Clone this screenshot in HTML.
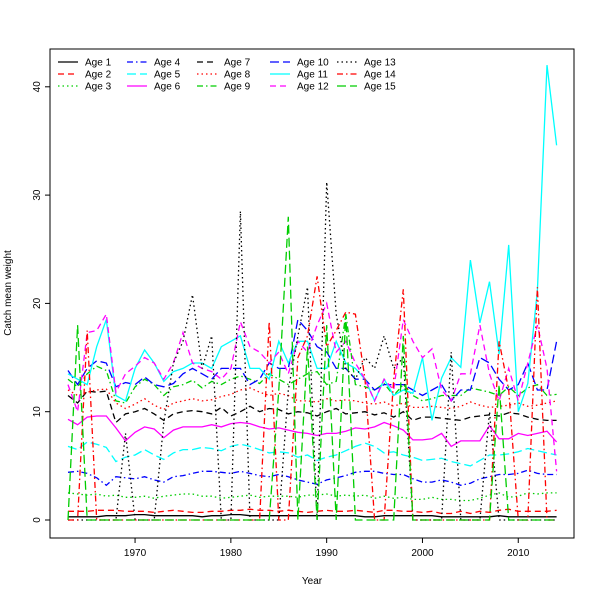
<!DOCTYPE html>
<html><head><meta charset="utf-8"><style>
body{margin:0;background:#fff}
svg{display:block;font-family:"Liberation Sans",sans-serif}
</style></head><body>
<svg id="chart" width="600" height="600">
<rect x="0" y="0" width="600" height="600" fill="#fff"/>
<g id="plot"></g>
<g id="axes"></g>
<g id="legend"></g>
</svg>
<script>
const years = [];
for (let y = 1963; y <= 2014; y++) years.push(y);
const xTicks = [1970, 1980, 1990, 2000, 2010];
const yTicks = [0, 10, 20, 30, 40];
const seriesNames = ["Age 1","Age 2","Age 3","Age 4","Age 5","Age 6","Age 7","Age 8","Age 9","Age 10","Age 11","Age 12","Age 13","Age 14","Age 15"];
const age1 = [0.3,0.3,0.3,0.3,0.4,0.4,0.4,0.5,0.5,0.4,0.4,0.4,0.4,0.4,0.3,0.4,0.4,0.5,0.5,0.4,0.4,0.4,0.4,0.4,0.4,0.4,0.4,0.4,0.4,0.4,0.4,0.3,0.3,0.4,0.4,0.4,0.4,0.4,0.4,0.3,0.3,0.3,0.3,0.3,0.3,0.4,0.3,0.3,0.3,0.3,0.3,0.3];
const age2 = [0.8,0.8,0.8,0.9,0.9,0.9,0.8,0.8,0.8,0.7,0.8,0.9,0.8,0.7,0.7,0.8,0.8,0.9,0.9,1.0,0.9,0.9,0.8,0.9,0.8,0.7,0.8,0.9,0.8,0.8,0.9,0.8,0.7,0.9,0.9,0.8,0.8,0.7,0.8,0.6,0.6,0.8,0.6,0.8,0.7,0.9,1.0,0.8,0.8,0.8,0.8,0.9];
const age3 = [2.5,2.4,2.3,2.4,2.2,2.3,2.1,2.1,2.2,2.0,2.2,2.3,2.4,2.4,2.2,2.2,2.0,2.1,2.2,2.3,2.1,2.2,2.2,2.2,2.1,2.3,2.3,2.4,2.2,2.3,2.2,2.3,2.0,2.2,2.0,2.1,1.9,1.9,2.1,1.9,1.9,1.8,1.8,2.0,2.3,2.5,2.1,2.2,2.5,2.4,2.5,2.5];
const age4 = [4.4,4.5,4.3,3.9,3.2,4.0,3.9,3.8,4.0,3.7,3.5,4.0,4.1,4.3,4.5,4.5,4.4,4.3,4.5,4.3,4.1,4.0,4.2,4.0,3.7,3.5,3.3,3.7,3.9,4.1,4.4,4.5,4.5,4.3,4.2,4.2,3.8,3.5,3.5,3.7,3.5,3.2,3.4,3.8,4.0,4.2,4.2,4.3,4.6,4.3,4.2,4.2];
const age5 = [6.8,6.5,7.2,7.0,6.7,5.4,5.8,6.0,6.5,6.0,5.6,6.2,6.5,6.5,6.7,6.6,6.4,6.8,7.0,6.8,6.5,6.2,6.3,6.2,5.8,6.0,5.5,5.8,6.0,6.4,6.8,7.1,6.8,6.2,6.3,6.0,5.8,5.5,5.6,5.7,5.4,5.2,5.0,5.5,6.0,6.0,6.1,6.3,6.6,6.4,6.2,6.0];
const age6 = [9.3,8.8,9.5,9.6,9.6,8.5,7.3,8.1,8.6,8.4,7.6,8.3,8.6,8.6,8.6,8.8,8.6,8.9,9.0,8.9,8.6,8.4,8.5,8.3,8.1,8.0,7.8,8.0,8.0,8.2,8.5,8.4,8.6,9.0,8.7,8.3,7.4,7.4,7.5,8.0,6.8,7.3,7.3,7.3,8.7,7.5,7.5,8.0,7.8,8.0,8.2,7.2];
const age7 = [11.5,10.8,11.9,11.8,11.9,9.0,9.8,10.0,10.3,9.8,9.2,9.8,10.0,10.1,10.0,9.8,10.4,9.6,10.0,10.5,10.0,10.3,10.2,9.8,10.0,9.9,9.6,10.0,10.3,9.8,9.9,10.0,9.7,9.9,9.5,10.0,9.2,9.5,9.5,9.4,9.3,9.2,9.5,9.6,9.7,9.6,9.9,9.8,9.5,9.3,9.2,9.2];
const age8 = [12.0,11.5,11.8,12.0,12.1,10.8,10.3,10.7,11.2,10.6,10.2,10.8,11.0,11.2,11.0,11.1,11.4,11.6,12.0,12.2,11.8,11.5,11.7,11.5,11.0,11.0,10.9,11.2,11.0,11.1,11.0,10.8,10.7,10.9,10.5,10.8,10.4,10.4,10.5,10.4,10.3,10.5,10.9,10.6,10.4,10.5,10.6,10.8,10.5,10.6,10.8,11.0];
const age9 = [13.0,12.3,13.5,14.2,13.8,11.0,10.8,12.3,13.0,12.5,11.5,12.3,12.5,12.9,12.2,12.8,12.5,13.0,13.3,13.0,12.6,13.5,13.0,12.5,13.0,13.5,13.7,12.5,12.8,19.0,12.5,12.3,12.0,12.6,11.5,12.5,11.5,11.0,11.2,11.5,11.5,11.5,12.2,12.0,11.8,11.5,12.3,11.5,12.2,12.5,11.5,11.6];
const age10 = [13.8,12.5,14.0,14.7,14.5,12.3,12.7,12.5,13.2,12.5,12.3,12.6,13.5,14.0,13.5,13.0,14.0,14.0,14.0,12.5,13.0,14.5,14.0,14.0,18.5,17.5,16.0,15.5,14.0,14.0,13.0,13.0,12.0,12.5,12.5,12.5,12.0,11.5,12.0,12.5,11.0,12.0,12.0,15.0,14.5,13.0,12.0,12.5,14.5,12.0,12.0,16.5];
const age11 = [13.5,13.0,12.5,16.0,18.5,11.5,11.0,14.0,15.7,14.5,12.8,13.7,14.0,14.5,14.5,14.0,16.0,16.5,17.0,14.0,14.0,13.0,16.5,14.5,16.5,16.5,14.0,14.0,16.5,14.5,14.0,13.0,11.0,13.0,11.5,12.0,11.7,15.0,9.2,13.1,15.0,14.1,24.0,18.2,22.0,15.3,25.4,10.0,12.6,21.2,42.0,34.6];
const age12 = [12.5,10.0,17.3,17.5,19.0,11.8,13.5,14.2,15.0,14.5,13.0,14.5,17.3,14.5,14.0,13.7,13.0,14.0,18.3,16.0,15.5,14.5,15.5,13.5,16.5,15.5,18.0,20.0,15.5,16.5,14.5,13.0,11.0,13.0,12.0,18.5,16.5,15.0,15.8,12.0,11.0,13.5,13.5,18.0,13.5,11.0,14.0,11.0,14.5,18.0,14.0,4.5];
const age13 = [0,0,0,0,0,0,8,0,0,0,9,14.5,16.5,20.8,14,17,0,0,28.5,0,0,0,0,12,17,21.5,0,31.2,19,14,13,15,14,17,14,15,0,0,0,0,15.5,0,0,0,10,0,0,0,0,0,0,0];
const age14 = [0,0,17.5,0,0,0,0,0,0,0,0,0,0,0,0,0,0,0,0,0,0,18.3,0,0,15,17,22.5,16,17.5,19.2,19,13,0,0,13,21.3,0,0,0,0,0,0,0,0,0,16.5,12,0,0,21.5,0,0];
const age15 = [0,18,0,0,0,0,0,0,0,0,0,0,0,0,0,0,0,0,0,0,0,0,12,28,0,16,0,18,0,19,0,0,0,0,0,17,0,0,0,0,0,0,0,0,0,12.5,0,0,0,0,0,0];
const seriesValues = [age1,age2,age3,age4,age5,age6,age7,age8,age9,age10,age11,age12,age13,age14,age15];

const colors = ["#000","#ff0000","#00cd00","#0000ff","#00ffff","#ff00ff","#000","#ff0000","#00cd00","#0000ff","#00ffff","#ff00ff","#000","#ff0000","#00cd00"];
const dashes = ["", "6,4", "1.5,3", "6,3,1.5,3", "9,4", "", "6,4", "1.5,3", "6,3,1.5,3", "9,4", "", "6,4", "1.5,3", "6,3,1.5,3", "9,4"];

const L=50,R=574,T=49,B=538;
const xs = y => 68 + (y-1963)*9.58;
const ys = v => 520 - v*10.83;
const NS="http://www.w3.org/2000/svg";
function mk(tag, attrs, parent){const e=document.createElementNS(NS,tag);for(const k in attrs)e.setAttribute(k,attrs[k]);parent.appendChild(e);return e;}
const plot=document.getElementById('plot'), axes=document.getElementById('axes'), legend=document.getElementById('legend');

seriesValues.forEach((vals,i)=>{
  const d = vals.map((v,j)=>(j?"L":"M")+xs(years[j]).toFixed(1)+","+ys(v).toFixed(1)).join("");
  const p = mk('path',{d:d,fill:"none",stroke:colors[i],"stroke-width":1.3,"stroke-dasharray":dashes[i]},plot);
  
  
});

const frame = mk('rect',{x:L,y:T,width:R-L,height:B-T,fill:"none",stroke:"#000","stroke-width":1},axes);


xTicks.forEach(t=>{
  const x=xs(t);
  const ln = mk('line',{x1:x,x2:x,y1:B,y2:B+5,stroke:"#000"},axes);
  
  
  const tx = mk('text',{x:x,y:B+18,"text-anchor":"middle","font-size":10},axes);
  tx.textContent=t;
  
  
});
yTicks.forEach(t=>{
  const y=ys(t);
  const ln = mk('line',{x1:L-5,x2:L,y1:y,y2:y,stroke:"#000"},axes);
  
  
  const tx = mk('text',{x:0,y:0,"text-anchor":"middle","font-size":10,transform:`translate(${L-10},${y}) rotate(-90)`},axes);
  tx.textContent=t;
  
  
});
const xt = mk('text',{x:312,y:584,"text-anchor":"middle","font-size":10},axes);
xt.textContent="Year";


const yt = mk('text',{x:0,y:0,"text-anchor":"middle","font-size":10,transform:"translate(11,293) rotate(-90)"},axes);
yt.textContent="Catch mean weight";



const colX=[58,127,197,270,337];
const rowY=[62,74,86];
seriesNames.forEach((n,i)=>{
  const c=Math.floor(i/3), r=i%3;
  const g = mk('g',{},legend);
  
  
  mk('line',{x1:colX[c],x2:colX[c]+20,y1:rowY[r],y2:rowY[r],stroke:colors[i],"stroke-width":1.3,"stroke-dasharray":dashes[i]},g);
  const t = mk('text',{x:colX[c]+27,y:rowY[r]+3.5,"font-size":10},g);
  t.textContent=n;
});
</script>
</body></html>
